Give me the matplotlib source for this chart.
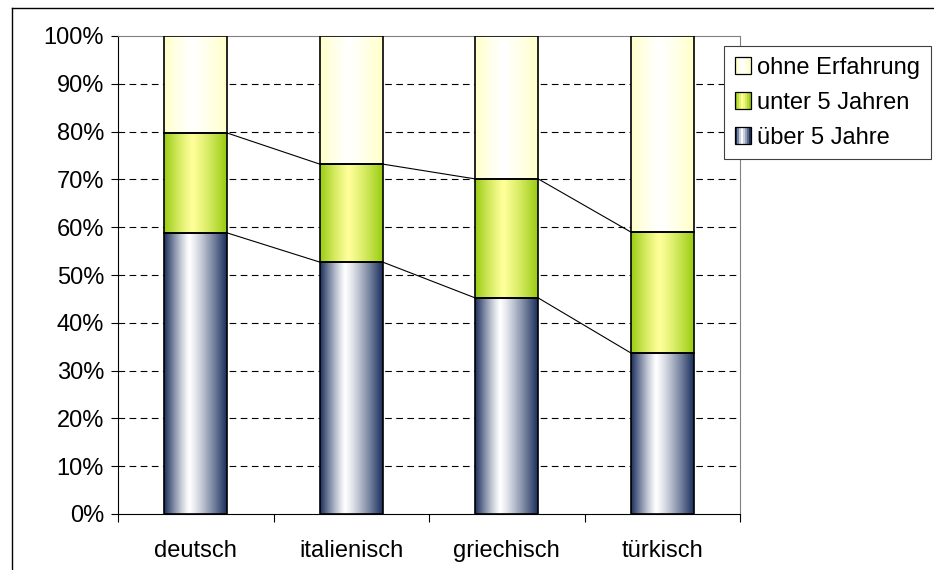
import numpy as np
import matplotlib.pyplot as plt
from matplotlib.colors import to_rgb
from matplotlib.patches import Rectangle
from matplotlib.legend_handler import HandlerBase
from matplotlib.lines import Line2D

plt.rcParams['font.family'] = ['Liberation Sans', 'DejaVu Sans']

kategorien = ["deutsch", "italienisch", "griechisch", "türkisch"]
ueber5 = [58.8, 52.7, 45.2, 33.7]
unter5 = [20.9, 20.5, 24.9, 25.3]
ohne = [20.3, 26.8, 29.9, 41.0]
serien = ["über 5 Jahre", "unter 5 Jahren", "ohne Erfahrung"]

# Verlauf: (Randfarbe, Mittenfarbe, Lage der Mitte)
verlauf = {
    "über 5 Jahre": ("#1a2f5c", "#ffffff", 0.40),
    "unter 5 Jahren": ("#99cc11", "#ffff99", 0.45),
    "ohne Erfahrung": ("#ffffc8", "#ffffff", 0.45),
}


def gradient_row(name, n=200):
    rand, mitte, c = verlauf[name]
    rand = np.array(to_rgb(rand))
    mitte = np.array(to_rgb(mitte))
    t = np.linspace(0, 1, n)
    w = np.where(t < c, (c - t) / c, (t - c) / (1 - c))
    w = w ** 1.2
    return (mitte[None, :] + (rand - mitte)[None, :] * w[:, None])[None, :, :]


class GradHandler(HandlerBase):
    def create_artists(self, legend, orig_handle, xdescent, ydescent,
                       width, height, fontsize, trans):
        name = orig_handle.get_label()
        s = 12.0
        x0 = -xdescent
        y0 = -ydescent + (height - s) / 2
        row = gradient_row(name, 8)[0]
        arts = []
        n = len(row)
        for k in range(n):
            arts.append(Rectangle((x0 + k * s / n, y0), s / n, s, facecolor=row[k],
                                  edgecolor='none', transform=trans))
        arts.append(Rectangle((x0, y0), s, s, facecolor='none',
                              edgecolor='black', lw=0.9, transform=trans))
        return arts


fig = plt.figure(figsize=(9.34, 5.70), dpi=100)
ax = fig.add_axes([118 / 934, 1 - 514 / 570, 622 / 934, 478 / 570])

x = np.arange(len(kategorien))
bw = 0.405
werte = [ueber5, unter5, ohne]
bottom = np.zeros(len(kategorien))
tops = []
for name, vals in zip(serien, werte):
    vals = np.array(vals)
    img = gradient_row(name)
    for i in range(len(x)):
        ax.imshow(img, extent=[x[i] - bw / 2, x[i] + bw / 2, bottom[i], bottom[i] + vals[i]],
                  aspect='auto', zorder=3, interpolation='bilinear')
        ax.add_patch(Rectangle((x[i] - bw / 2, bottom[i]), bw, vals[i], fill=False,
                               edgecolor='black', lw=1.2, zorder=4))
    bottom = bottom + vals
    tops.append(bottom.copy())

# Reihenlinien
for cum in tops[:2]:
    for i in range(len(x) - 1):
        ax.plot([x[i] + bw / 2, x[i + 1] - bw / 2], [cum[i], cum[i + 1]],
                color='black', lw=0.8, zorder=2)

ax.set_xlim(-0.5, 3.5)
ax.set_ylim(0, 100)
for yy in range(10, 100, 10):
    ax.axhline(yy, color='black', lw=0.8, dashes=(6, 4), zorder=1)

ax.set_yticks(range(0, 101, 10))
ax.set_yticklabels([f"{v}%" for v in range(0, 101, 10)], fontsize=17)
ax.tick_params(axis='y', direction='out', length=5, pad=5)
ax.set_xticks(np.arange(-0.5, 3.6, 1.0))
ax.set_xticklabels([])
ax.tick_params(axis='x', which='major', direction='out', length=6)
ax.set_xticks(x, minor=True)
ax.set_xticklabels(kategorien, minor=True, fontsize=17)
ax.tick_params(axis='x', which='minor', length=0, pad=19)

ax.spines['top'].set_color('#808080')
ax.spines['right'].set_color('#808080')

handles = [Line2D([], [], label=n) for n in serien[::-1]]
leg = fig.legend(handles=handles, labels=serien[::-1],
                 handler_map={Line2D: GradHandler()},
                 loc='upper left', bbox_to_anchor=(724 / 934, 1 - 46 / 570),
                 fontsize=17, fancybox=False, framealpha=1, edgecolor='#404040',
                 handlelength=0.7, handletextpad=0.25, labelspacing=0.55,
                 borderpad=0.45, borderaxespad=0)
leg.get_frame().set_linewidth(0.8)

# Rahmen des Diagrammbereichs
fig.add_artist(Line2D([12 / 934, 12 / 934], [0, 1 - 8 / 570], color='black', lw=1,
                      transform=fig.transFigure))
fig.add_artist(Line2D([12 / 934, 1], [1 - 8 / 570, 1 - 8 / 570], color='black', lw=1,
                      transform=fig.transFigure))

fig.savefig("out.png", dpi=100)
